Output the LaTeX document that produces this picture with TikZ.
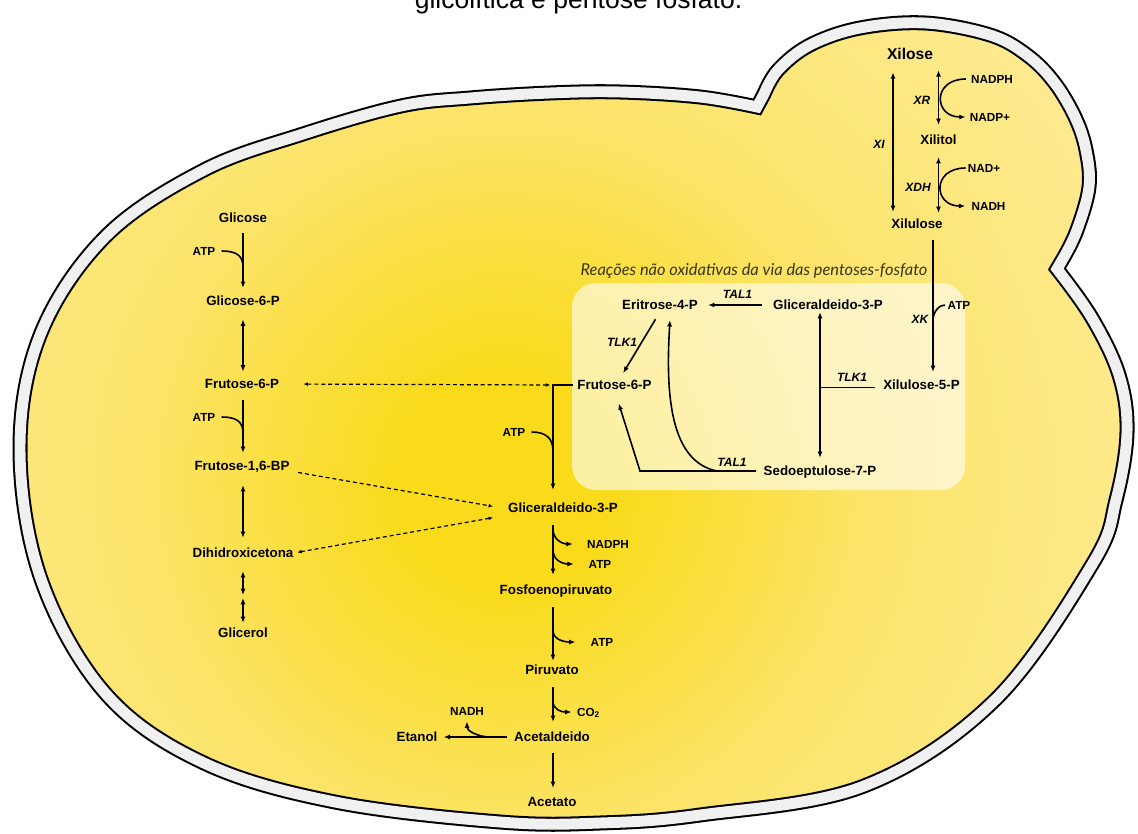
\documentclass[tikz,border=0pt]{standalone}
\usepackage{fontspec}
\setsansfont{Liberation Sans}
\newfontfamily\panelfont{Lato}
\usetikzlibrary{arrows.meta,calc}

\definecolor{cellCore}{HTML}{F9DB1C}
\definecolor{cellMid}{HTML}{FCE46A}
\definecolor{cellPale}{HTML}{FDEA90}
\definecolor{cellEdge}{HTML}{FEEEA0}
\definecolor{wallGray}{HTML}{F0F0F0}
\definecolor{inkTitle}{HTML}{39341C}

\pgfdeclareradialshading{cellglow}{\pgfpoint{0bp}{0bp}}{%
  color(0bp)=(cellCore); color(4bp)=(cellCore); color(13bp)=(cellMid);
  color(24bp)=(cellPale); color(40bp)=(cellEdge); color(50bp)=(cellEdge)}

% outline of the yeast cell: mother cell followed by the bud
\def\cellwall{plot[smooth,tension=0.6] coordinates {(757,107) (700,97) (620,92) (550,93) (470,98)
  (401,106) (303,134) (204,170) (106,236) (41,333) (20,448) (41,579) (106,694) (204,763)
  (335,802) (500,822) (600,823) (700,815) (864,786) (995,700) (1093,563) (1116,500)
  (1127,432) (1119,375) (1092,318) (1057,269)}
  -- plot[smooth,tension=0.6] coordinates {(1064,257) (1077,230) (1089,187) (1086,150)
  (1075,117) (1054,82) (1027,55) (990,35) (925,23) (860,28) (810,45) (778,70) (764,94)}
  -- cycle}

\tikzset{
  lbl/.style={font=\sffamily\bfseries\fontsize{10}{12}\selectfont, inner sep=0pt,
    text height=7.2pt, text depth=0pt},
  cof/.style={font=\sffamily\bfseries\fontsize{8.8}{10}\selectfont, inner sep=0pt,
    text height=6.3pt, text depth=0pt},
  enz/.style={font=\sffamily\bfseries\itshape\fontsize{9}{10}\selectfont, inner sep=0pt,
    text height=6.5pt, text depth=0pt},
  tipA/.tip={Latex[length=4.8pt,width=3.8pt]},
  tipB/.tip={Latex[length=3.4pt,width=2.8pt]},
  arr/.style={line width=1.2pt, -tipA},
  darr/.style={line width=1.2pt, tipA-tipA},
  hookline/.style={line width=1.2pt},
  plainline/.style={line width=1.2pt},
  dsingle/.style={line width=0.9pt, dash pattern=on 3pt off 2.2pt, -tipB},
  ddouble/.style={line width=0.9pt, dash pattern=on 3pt off 2.2pt, tipB-tipB},
}

\begin{document}
\begin{tikzpicture}[x=0.75pt,y=-0.75pt]
\useasboundingbox (0,0) rectangle (1138,834);

% caption line above the figure
\node[font=\sffamily\fontsize{19.9}{24}\selectfont, anchor=base, text=black] (ttl)
  at (578.5,9) {glicolítica e pentose fosfato.};

% cytoplasm
\begin{scope}
  \clip \cellwall;
  \fill[cellEdge] (0,0) rectangle (1138,834);
  \shade[shading=cellglow] (505,480) circle [radius=525pt];
\end{scope}
% cell wall
\draw[line width=11.25pt, line join=miter, black] \cellwall;
\draw[line width=8.2pt, line join=miter, wallGray] \cellwall;

% pentose phosphate panel
\fill[white, fill opacity=0.6, rounded corners=18pt] (572,283) rectangle (965,490);
\node[font=\panelfont\itshape\fontsize{12.3}{14}\selectfont, text=inkTitle, inner sep=0pt]
  (ptitle) at (754,271) {Reações não oxidativas da via das pentoses-fosfato};

% ---------- glycolysis (left column) ----------
\coordinate (colL) at (243,0);
\node[lbl] (glc)  at (243,218) {Glicose};
\node[lbl] (g6p)  at (243,301) {Glicose-6-P};
\node[lbl] (f6pa) at (242,384) {Frutose-6-P};
\node[lbl] (f16)  at (242,466) {Frutose-1,6-BP};
\node[lbl] (dhap) at (243,553) {Dihidroxicetona};
\node[lbl] (glyc) at (243,633) {Glicerol};
\node[cof] (atpA) at (204,251) {ATP};
\node[cof] (atpB) at (204,417) {ATP};

\draw[arr, shorten <=7.5pt, shorten >=6pt] (glc.south -| colL) -- (g6p.north -| colL);
\draw[darr, shorten <=10pt, shorten >=5.5pt] (g6p.south -| colL) -- (f6pa.north -| colL);
\draw[arr, shorten <=8.25pt, shorten >=6pt] (f6pa.south -| colL) -- (f16.north -| colL);
\draw[darr, shorten <=10.5pt, shorten >=7.5pt] (f16.south -| colL) -- (dhap.north -| colL);
\coordinate (glmid) at (243,596.5);
\draw[darr, shorten <=9.75pt, shorten >=1.1pt] (dhap.south -| colL) -- (glmid);
\draw[darr, shorten <=1.1pt, shorten >=3.75pt] (glmid) -- (glyc.north -| colL);

\coordinate (hA) at (243,267);
\coordinate (hB) at (243,433);
\draw[hookline, shorten <=4.5pt] (atpA.east) .. controls +(20,0) and +(0,-12) .. (hA);
\draw[hookline, shorten <=4.5pt] (atpB.east) .. controls +(20,0) and +(0,-12) .. (hB);

% ---------- main trunk ----------
\coordinate (spine) at (553,0);
\node[lbl] (gapc) at (563,508) {Gliceraldeido-3-P};
\node[lbl] (pep)  at (556,590) {Fosfoenopiruvato};
\node[lbl] (pyr)  at (552,670) {Piruvato};
\node[lbl] (acal) at (552,737) {Acetaldeido};
\node[lbl] (acet) at (552,802) {Acetato};
\node[lbl] (etoh) at (417,737) {Etanol};
\node[cof] (atpC)   at (514,432) {ATP};
\node[cof] (nadph2) at (608,544) {NADPH};
\node[cof] (atpD)   at (600,564) {ATP};
\node[cof] (atpE)   at (602,642) {ATP};
\node[cof] (co2)    at (588.5,712) {CO\textsubscript{2}};
\node[cof] (nadh3)  at (467,711) {NADH};

% ---------- xylose branch ----------
\coordinate (colXI) at (893,0);
\coordinate (colXK) at (933,0);
\node[lbl, font=\sffamily\bfseries\fontsize{11.7}{14}\selectfont, text height=8.4pt]
  (xyl) at (910,54) {Xilose};
\node[lbl] (xoh) at (938.5,140) {Xilitol};
\node[lbl] (xlu) at (917,224) {Xilulose};
\node[lbl] (x5p) at (921.5,385) {Xilulose-5-P};
\node[enz] (xi)  at (879,144) {XI};
\node[enz] (xr)  at (922,100) {XR};
\node[enz] (xdh) at (918,187) {XDH};
\node[enz] (xk)  at (920,319) {XK};
\node[cof] (nadph1) at (992,79) {NADPH};
\node[cof] (nadp1)  at (990,117) {NADP+};
\node[cof] (nadp2)  at (984,168) {NAD+};
\node[cof] (nadh1)  at (988.5,206) {NADH};
\node[cof] (atpX)   at (959,305) {ATP};

\draw[darr, shorten <=9.3pt, shorten >=5.25pt] (xyl.south -| colXI) -- (xlu.north -| colXI);
\draw[darr, shorten <=7.8pt, shorten >=7.5pt] (xyl.south -| xoh) -- (xoh.north);
\draw[darr, shorten <=9pt, shorten >=4.5pt] (xoh.south) -- (xlu.north -| xoh);
\draw[arr] ([xshift=-3.75pt]nadph1.west) .. controls +(-34,0) and +(-32,0) .. ([xshift=-3pt]nadp1.west);
\draw[arr] ([xshift=-1.5pt]nadp2.west) .. controls +(-34,0) and +(-32,0) .. ([xshift=-4.5pt]nadh1.west);
\draw[arr, shorten <=8.25pt, shorten >=6pt] (xlu.south -| colXK) -- (x5p.north -| colXK);
\coordinate (hK) at (933,321);
\draw[hookline, shorten <=2pt] (atpX.west) .. controls +(-8,0) and +(0,-10) .. (hK);

% ---------- non-oxidative pentose phosphate reactions ----------
\node[lbl] (e4p)  at (660,305) {Eritrose-4-P};
\node[lbl] (gapb) at (828,305) {Gliceraldeido-3-P};
\node[lbl] (f6pb) at (614.5,385) {Frutose-6-P};
\node[lbl] (s7p)  at (820,471) {Sedoeptulose-7-P};
\node[enz] (tal1a) at (737.5,294.5) {TAL1};
\node[enz] (tlk1a) at (622,342) {TLK1};
\node[enz] (tal1b) at (732,462) {TAL1};
\node[enz] (tlk1b) at (852,377) {TLK1};

\draw[arr, shorten <=8.25pt, shorten >=7.5pt] (gapb.west) -- (e4p.east);
\draw[arr, shorten <=8pt, shorten >=6pt] ([xshift=0.75pt]e4p.south) -- ([xshift=3.4pt]f6pb.north);
\coordinate (kink) at (640,471);
\coordinate (branch) at (717,471);
\draw[arr, shorten <=5.5pt, shorten >=10.5pt] (s7p.west) -- (kink) -- (f6pb.south);
\draw[arr] (branch) .. controls +(-45,-9) and +(-5,80) .. ([xshift=7.5pt,yshift=-7.5pt]e4p.south);
\draw[darr, shorten <=1.5pt, shorten >=6pt] (gapb.south -| s7p) -- (s7p.north);
\draw[plainline, shorten <=6.3pt] ([yshift=-2pt]x5p.west) -- ([yshift=-2pt]x5p.west -| s7p);

% ---------- links into the trunk ----------
\draw[arr, shorten <=3pt, shorten >=9.75pt] (f6pb.west) -- (f6pb.west -| spine) -- (gapc.north -| spine);
\coordinate (hC) at (553,451);
\draw[hookline, shorten <=4.5pt] (atpC.east) .. controls +(20,0) and +(0,-13) .. (hC);

\draw[arr, shorten <=9pt, shorten >=7.5pt] (gapc.south -| spine) -- (pep.north -| spine);
\coordinate (hN) at (553,529);
\coordinate (hD) at (553,550);
\draw[arr] (hN) .. controls +(0,11) and +(-10,0) .. ([xshift=-10.5pt]nadph2.west);
\draw[arr] (hD) .. controls +(0,11) and +(-10,0) .. ([xshift=-11pt]atpD.west);

\draw[arr, shorten <=9pt, shorten >=3pt] (pep.south -| spine) -- (pyr.north -| spine);
\coordinate (hE) at (553,630);
\draw[arr] (hE) .. controls +(0,10) and +(-11,0) .. ([xshift=-11.25pt]atpE.west);

\draw[arr, shorten <=9pt, shorten >=7.5pt] (pyr.south -| spine) -- (acal.north -| spine);
\coordinate (hF) at (553,701);
\draw[arr] (hF) .. controls +(0,9) and +(-10,0) .. ([xshift=-4pt]co2.west);

\draw[arr, shorten <=5pt, shorten >=4.5pt] (acal.west) -- (etoh.east);
\coordinate (hG) at (488,737);
\draw[arr] (hG) .. controls +(-12,-1) and +(0,9) .. ([yshift=-4.5pt]nadh3.south);

\draw[arr, shorten <=8.25pt, shorten >=6.75pt] (acal.south -| spine) -- (acet.north -| spine);

% ---------- dashed connections ----------
\draw[ddouble, shorten <=18pt, shorten >=2pt] (f6pa.east) -- (f6pb.west -| spine);
\draw[dsingle, shorten <=6.5pt, shorten >=11.25pt] ([yshift=-3.75pt]f16.east) -- ([yshift=-0.75pt]gapc.west);
\draw[ddouble, shorten <=11.25pt, shorten >=2.7pt] ([yshift=-5.25pt]gapc.west) -- (dhap.east);

\end{tikzpicture}
\end{document}
